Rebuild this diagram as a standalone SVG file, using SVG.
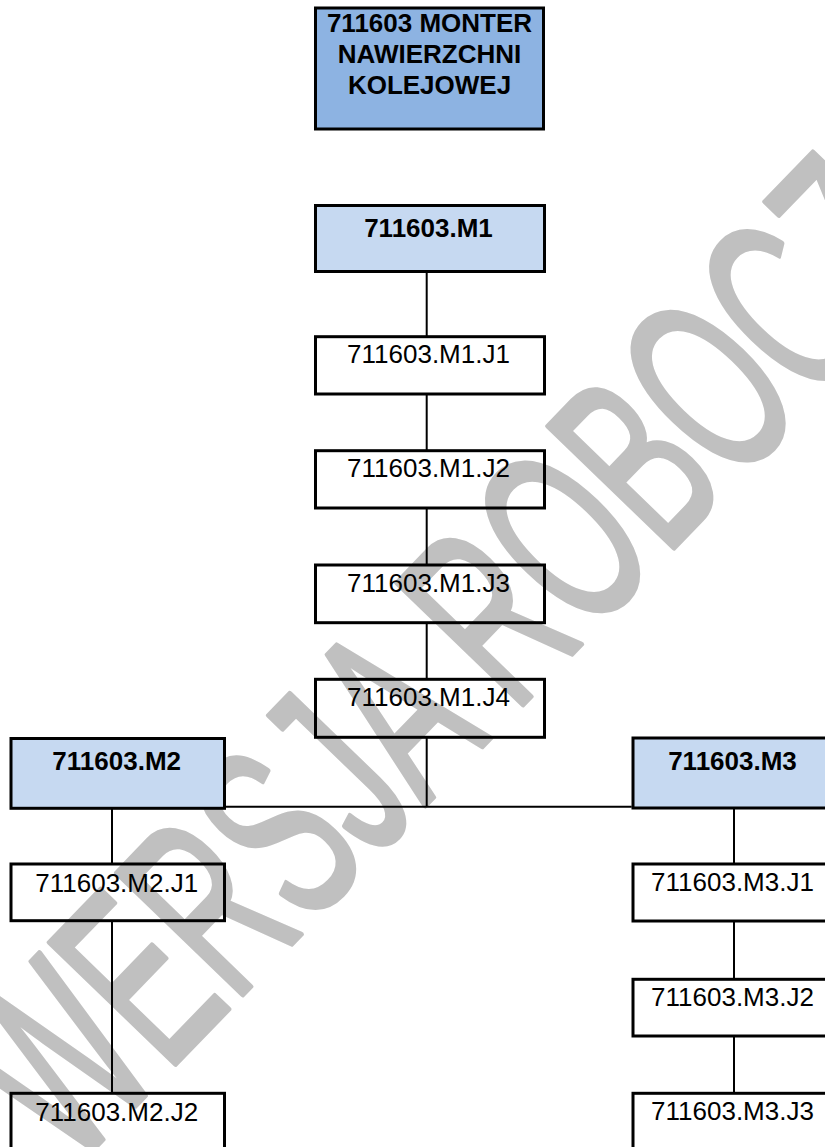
<svg xmlns="http://www.w3.org/2000/svg" width="825" height="1147" viewBox="0 0 825 1147">
<style>
.box{stroke:#000;stroke-width:3}
.top{fill:#8db3e2}
.mod{fill:#c6d9f1}
.unit{fill:none}
.t{font-family:"Liberation Sans",Arial,sans-serif;font-size:26px;fill:#000;text-anchor:middle}
.b{font-weight:bold}
.conn line{stroke:#000;stroke-width:2}
.wm{font-family:"Liberation Sans",Arial,sans-serif;font-size:255px;fill:#c0c0c0;stroke:#c0c0c0;stroke-width:5;stroke-linejoin:round}
</style>
<rect width="825" height="1147" fill="#fff"/>
<text class="wm" transform="translate(71.5,1172) rotate(-46) scale(0.569,1)">WERSJA ROBOCZA</text>
<g id="connectors" class="conn">
<line x1="426.7" y1="272" x2="426.7" y2="336.7"/>
<line x1="426.7" y1="394" x2="426.7" y2="450.7"/>
<line x1="426.7" y1="508" x2="426.7" y2="565"/>
<line x1="426.7" y1="622.7" x2="426.7" y2="679.3"/>
<line x1="426.7" y1="737.3" x2="426.7" y2="806.7"/>
<line x1="225" y1="806.7" x2="631.7" y2="806.7"/>
<line x1="112" y1="808.3" x2="112" y2="864"/>
<line x1="112" y1="920.7" x2="112" y2="1093.3"/>
<line x1="734" y1="808" x2="734" y2="864"/>
<line x1="734" y1="921" x2="734" y2="979.3"/>
<line x1="734" y1="1036" x2="734" y2="1093.3"/>
</g>
<g id="n-root"><rect class="box top" x="315.5" y="8" width="228" height="121"/>
<text class="t b" x="429.5" y="32.3">711603 MONTER</text>
<text class="t b" x="429.5" y="63.3">NAWIERZCHNI</text>
<text class="t b" x="429.5" y="94.3">KOLEJOWEJ</text></g>
<g id="n-m1"><rect class="box mod" x="315.5" y="205.5" width="229" height="66"/>
<text class="t b" x="428.5" y="236.7">711603.M1</text></g>
<g id="n-m1j1"><rect class="box unit" x="315.5" y="336.7" width="229" height="57.3"/>
<text class="t" x="428.5" y="363">711603.M1.J1</text></g>
<g id="n-m1j2"><rect class="box unit" x="315.5" y="450.7" width="229" height="57.3"/>
<text class="t" x="428.5" y="477">711603.M1.J2</text></g>
<g id="n-m1j3"><rect class="box unit" x="315.5" y="565" width="229" height="57.7"/>
<text class="t" x="428.5" y="591.5">711603.M1.J3</text></g>
<g id="n-m1j4"><rect class="box unit" x="315.5" y="679.3" width="229" height="58"/>
<text class="t" x="428.5" y="705.8">711603.M1.J4</text></g>
<g id="n-m2"><rect class="box mod" x="11" y="738.5" width="213.5" height="69.8"/>
<text class="t b" x="116.7" y="770">711603.M2</text></g>
<g id="n-m2j1"><rect class="box unit" x="11" y="864" width="213.5" height="56.7"/>
<text class="t" x="116.7" y="891.5">711603.M2.J1</text></g>
<g id="n-m2j2"><rect class="box unit" x="11" y="1093.3" width="213.5" height="57"/>
<text class="t" x="116.7" y="1120.5">711603.M2.J2</text></g>
<g id="n-m3"><rect class="box mod" x="633" y="738" width="206" height="70"/>
<text class="t b" x="732.5" y="770">711603.M3</text></g>
<g id="n-m3j1"><rect class="box unit" x="633" y="864" width="206" height="57"/>
<text class="t" x="732.5" y="890.5">711603.M3.J1</text></g>
<g id="n-m3j2"><rect class="box unit" x="633" y="979.3" width="206" height="56.7"/>
<text class="t" x="732.5" y="1005.5">711603.M3.J2</text></g>
<g id="n-m3j3"><rect class="box unit" x="633" y="1093.3" width="206" height="57"/>
<text class="t" x="732.5" y="1120">711603.M3.J3</text></g>
</svg>
